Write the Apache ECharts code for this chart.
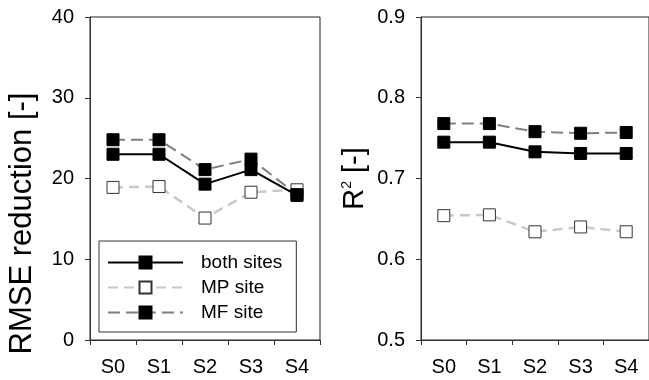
<!DOCTYPE html>
<html>
<head>
<meta charset="utf-8">
<script src="https://cdn.jsdelivr.net/npm/echarts@6/dist/echarts.min.js"></script>
<style>
	html, body { margin: 0; padding: 0; background: #fff; }
	#chart { width: 649px; height: 380px; }
</style>
</head>
<body>
<div id="chart"></div>
<script>
	// categories and values
	const cats = ["S0", "S1", "S2", "S3", "S4"];
	const seriesNames = ["both sites", "MP site", "MF site"];
	// RMSE reduction [-]
	const rmseBoth = [23.0, 23.0, 19.3, 21.1, 17.9];
	const rmseMP = [18.9, 19.0, 15.1, 18.3, 18.6];
	const rmseMF = [24.8, 24.8, 21.1, 22.4, 18.0];
	// R2 [-]
	const r2Both = [0.745, 0.745, 0.733, 0.731, 0.731];
	const r2MP = [0.654, 0.655, 0.634, 0.640, 0.634];
	const r2MF = [0.768, 0.768, 0.758, 0.756, 0.757];

	const font = "Liberation Sans";
	const styles = {
		"both sites": {
			line: { color: "#000", width: 2, type: "solid" },
			item: { color: "#000", borderColor: "#000", borderWidth: 1 }
		},
		"MP site": {
			line: { color: "#cacaca", width: 2.5, type: [10, 6] },
			item: { color: "#fff", borderColor: "#333", borderWidth: 1 }
		},
		"MF site": {
			line: { color: "#7f7f7f", width: 2, type: [12, 6] },
			item: { color: "#000", borderColor: "#000", borderWidth: 1 }
		}
	};

	function mkSeries(name, data, idx) {
		return {
			name: name,
			type: "line",
			xAxisIndex: idx,
			yAxisIndex: idx,
			data: data,
			symbol: "rect",
			symbolSize: 12,
			lineStyle: styles[name].line,
			itemStyle: styles[name].item,
			emphasis: { disabled: true },
			animation: false
		};
	}

	function xAx(idx) {
		return {
			type: "category",
			gridIndex: idx,
			data: cats,
			boundaryGap: true,
			axisLine: { lineStyle: { color: "#333", width: 1 } },
			axisTick: { show: true, length: 5, lineStyle: { color: "#333" } },
			axisLabel: { color: "#000", fontSize: 20, fontFamily: font, margin: 17 },
			splitLine: { show: false }
		};
	}

	function yAx(idx, min, max, step, name, nameStyle) {
		return {
			type: "value",
			gridIndex: idx,
			min: min,
			max: max,
			interval: step,
			name: name,
			nameLocation: "middle",
			nameGap: 52,
			nameTextStyle: Object.assign({ color: "#000", fontFamily: font }, nameStyle),
			axisLine: { show: true, lineStyle: { color: "#333", width: 1 } },
			axisTick: { show: true, length: 5, lineStyle: { color: "#333" } },
			axisLabel: {
				color: "#000", fontSize: 20, fontFamily: font, margin: 16,
				formatter: function(v) { return step < 1 ? v.toFixed(1) : String(v); }
			},
			splitLine: { show: false }
		};
	}

	const chart = echarts.init(document.getElementById("chart"), null, { renderer: "canvas" });
	const option = {
		backgroundColor: "#fff",
		animation: false,
		grid: [
			{ left: 90, top: 17, width: 230, height: 323, show: true, borderColor: "#222", borderWidth: 1, containLabel: false },
			{ left: 421, top: 17, width: 231, height: 323, show: true, borderColor: "#222", borderWidth: 1, containLabel: false }
		],
		legend: {
			data: seriesNames,
			orient: "vertical",
			left: 99,
			top: 241,
			padding: [12, 14, 10, 8],
			itemWidth: 75,
			itemHeight: 15,
			itemGap: 6,
			borderColor: "#333",
			borderWidth: 1,
			selectedMode: false,
			textStyle: { color: "#000", fontSize: 19, fontFamily: font, padding: [0, 0, 0, 13] }
		},
		xAxis: [xAx(0), xAx(1)],
		yAxis: [
			yAx(0, 0, 40, 10, "RMSE reduction [-]", { fontSize: 31, padding: [0, 90, 0, 0] }),
			yAx(1, 0.5, 0.9, 0.1, "R{sup|2} [-]", {
				fontSize: 29,
				rich: { sup: { fontSize: 14, fontFamily: font, color: "#000", verticalAlign: "top", padding: [0, 0, 12, 0] } }
			})
		],
		series: [
			mkSeries("MP site", rmseMP, 0),
			mkSeries("MF site", rmseMF, 0),
			mkSeries("both sites", rmseBoth, 0),
			mkSeries("MP site", r2MP, 1),
			mkSeries("MF site", r2MF, 1),
			mkSeries("both sites", r2Both, 1)
		]
	};
	chart.setOption(option);
</script>
</body>
</html>
